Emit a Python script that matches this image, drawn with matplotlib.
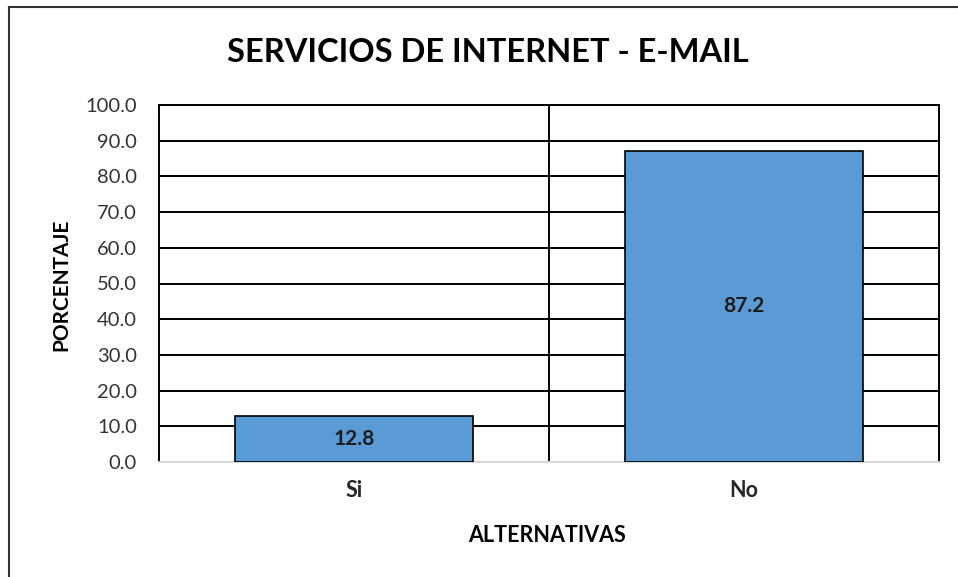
import matplotlib.pyplot as plt
from matplotlib.lines import Line2D

# Data
categories = ['Si', 'No']
values = [12.8, 87.2]
yticks = [0, 10, 20, 30, 40, 50, 60, 70, 80, 90, 100]

plt.rcParams['font.family'] = ['Lato', 'DejaVu Sans']

W, H = 958, 577
fig = plt.figure(figsize=(W / 100, H / 100), dpi=100)
ax = fig.add_axes([159 / W, 1 - 462 / H, (939 - 159) / W, (462 - 105) / H])

x = range(len(categories))
bars = ax.bar(x, values, width=0.608, color='#5B9BD5', edgecolor='black',
              linewidth=1.2, zorder=3)
for b, v in zip(bars, values):
    ax.text(b.get_x() + b.get_width() / 2, v / 2, f'{v:.1f}', ha='center',
            va='center', fontsize=15, fontweight='bold', color='#1a1a1a', zorder=4)

ax.set_xlim(-0.5, 1.5)
ax.set_ylim(0, 100)
ax.set_yticks(yticks)
ax.set_yticklabels([f'{t:.1f}' for t in yticks])
ax.set_xticks(list(x))
ax.set_xticklabels(categories)
ax.yaxis.grid(True, color='black', linewidth=1.4, zorder=1)
ax.axvline(0.5, color='black', linewidth=1.4, zorder=1)
ax.tick_params(axis='y', length=0, pad=16, labelsize=14.5, labelcolor='#333333')
ax.tick_params(axis='x', length=0, pad=13, labelsize=15.5, labelcolor='#262626')
for lbl in ax.get_xticklabels():
    lbl.set_fontweight('bold')

for s in ['left', 'right', 'top']:
    ax.spines[s].set_color('black')
    ax.spines[s].set_linewidth(1.4)
ax.spines['bottom'].set_color('#d9d9d9')
ax.spines['bottom'].set_linewidth(1.4)

fig.text(488 / W, 1 - 53 / H, 'SERVICIOS DE INTERNET - E-MAIL', ha='center',
         va='center', fontsize=23.5, fontweight='bold', color='black')
fig.text(61 / W, 1 - 285 / H, 'PORCENTAJE', rotation=90, ha='center',
         va='center', fontsize=15, fontweight='bold', color='black')
fig.text(547 / W, 1 - 536 / H, 'ALTERNATIVAS', ha='center', va='center',
         fontsize=15.5, fontweight='bold', color='black')

# outer chart border (only left and top visible)
fig.add_artist(Line2D([9 / W, 9 / W], [0, 1 - 7 / H], transform=fig.transFigure,
                      color='#333333', linewidth=1.5))
fig.add_artist(Line2D([9 / W, 1], [1 - 7 / H, 1 - 7 / H], transform=fig.transFigure,
                      color='#333333', linewidth=1.5))

plt.savefig('out.png', dpi=100)
plt.close()
